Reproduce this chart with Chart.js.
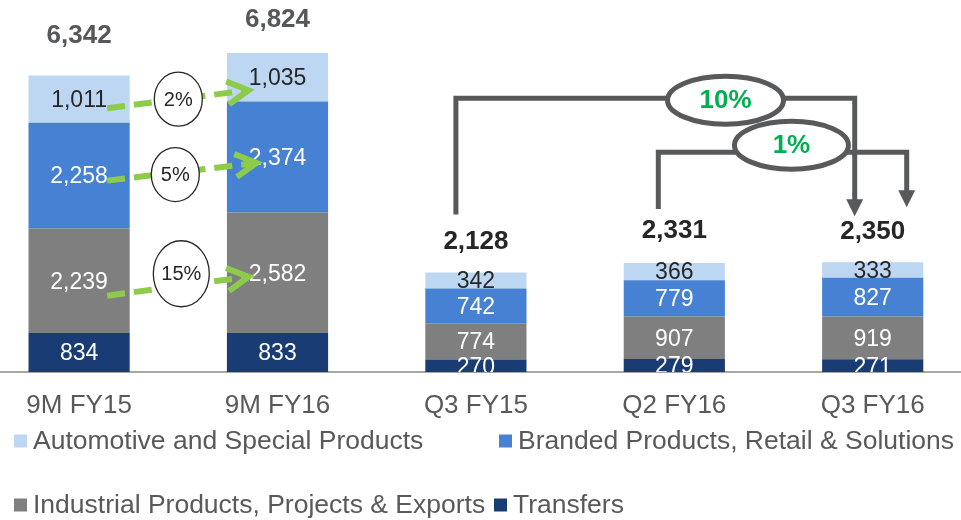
<!DOCTYPE html>
<html><head><meta charset="utf-8">
<script src="https://cdn.jsdelivr.net/npm/chart.js@4.4.1/dist/chart.umd.min.js"></script>
<style>html,body{margin:0;padding:0;background:#fff;overflow:hidden}</style>
</head><body>
<canvas id="c" width="961" height="520"></canvas>
<script>
// ---- data ----
const categories = ['9M FY15', '9M FY16', 'Q3 FY15', 'Q2 FY16', 'Q3 FY16'];
const transfers  = [834, 833, 270, 279, 271];
const industrial = [2239, 2582, 774, 907, 919];
const branded    = [2258, 2374, 742, 779, 827];
const automotive = [1011, 1035, 342, 366, 333];
const totals     = [6342, 6824, 2128, 2331, 2350];
const growth9M   = ['2%', '5%', '15%'];   // automotive, branded, industrial (9M FY16 vs 9M FY15)
const growthQ    = ['10%', '1%'];         // Q3 FY16 vs Q3 FY15, Q3 FY16 vs Q2 FY16
const seriesNames = ['Transfers', 'Industrial Products, Projects & Exports', 'Branded Products, Retail & Solutions', 'Automotive and Special Products'];

// ---- styles ----
const FONT = '"Liberation Sans", Arial, sans-serif';
const seriesColors = ['#1A3C74', '#7F7F7F', '#4681D3', '#BDD7F2'];
const labelColors = ['#FFFFFF', '#FFFFFF', '#FFFFFF', '#262626'];
const seriesValues = [transfers, industrial, branded, automotive];
const totalStyle = [
  { dy: -40, color: '#55585B' }, { dy: -33, color: '#55585B' },
  { dy: -31, color: '#262626' }, { dy: -32, color: '#262626' }, { dy: -30, color: '#262626' }
];

const annot = {
  id: 'annot',
  afterDatasetsDraw(chart) {
    const { ctx, chartArea: a } = chart;
    const seg = (d, i) => {
      const el = chart.getDatasetMeta(d).data[i];
      return { x: el.x, top: Math.min(el.y, el.base), base: el.base, mid: (el.y + el.base) / 2 };
    };
    // segment labels (clipped to plot area)
    ctx.save();
    ctx.beginPath(); ctx.rect(a.left, a.top, a.right - a.left, a.bottom - a.top); ctx.clip();
    ctx.font = '23px ' + FONT; ctx.textAlign = 'center'; ctx.textBaseline = 'middle';
    seriesValues.forEach((vals, d) => vals.forEach((v, i) => {
      const s = seg(d, i);
      ctx.fillStyle = labelColors[d];
      ctx.fillText(v.toLocaleString('en-US'), s.x, s.mid + 1.5);
    }));
    ctx.restore();

    // totals
    ctx.save();
    ctx.font = 'bold 26px ' + FONT; ctx.textAlign = 'center'; ctx.textBaseline = 'middle';
    totals.forEach((t, i) => {
      const s = seg(3, i);
      ctx.fillStyle = totalStyle[i].color;
      ctx.fillText(t.toLocaleString('en-US'), s.x, s.top + totalStyle[i].dy);
    });
    ctx.restore();

    // green dashed growth arrows between 9M bars
    const gArrows = [
      { d: 3, t: growth9M[0], sx: 28, sy: 9,  ex: -29, ey: 13, cdx: 0,  cdy: 0,  rx: 24, ry: 27 },
      { d: 2, t: growth9M[1], sx: 28, sy: 5,  ex: -21, ey: 6,  cdx: -3, cdy: 2,  rx: 24, ry: 27 },
      { d: 1, t: growth9M[2], sx: 28, sy: 15, ex: -29, ey: 4,  cdx: 3,  cdy: -12, rx: 28, ry: 33 }
    ];
    gArrows.forEach(g => {
      const s0 = seg(g.d, 0), s1 = seg(g.d, 1);
      const p0 = { x: s0.x + g.sx, y: s0.mid + g.sy };
      const p1 = { x: s1.x + g.ex, y: s1.mid + g.ey };
      const ang = Math.atan2(p1.y - p0.y, p1.x - p0.x);
      ctx.save();
      ctx.strokeStyle = '#8DCB4A'; ctx.lineWidth = 6; ctx.lineCap = 'butt';
      ctx.setLineDash([18, 9]);
      ctx.beginPath(); ctx.moveTo(p0.x, p0.y); ctx.lineTo(p1.x - 4 * Math.cos(ang), p1.y - 4 * Math.sin(ang)); ctx.stroke();
      ctx.setLineDash([]); ctx.lineJoin = 'miter';
      const L = 24, w = 0.5;
      ctx.beginPath();
      ctx.moveTo(p1.x + L * Math.cos(ang + Math.PI - w), p1.y + L * Math.sin(ang + Math.PI - w));
      ctx.lineTo(p1.x, p1.y);
      ctx.lineTo(p1.x + L * Math.cos(ang + Math.PI + w), p1.y + L * Math.sin(ang + Math.PI + w));
      ctx.stroke();
      // circle with label
      const cx = (s0.x + s1.x) / 2 + g.cdx;
      const tt = (cx - p0.x) / (p1.x - p0.x);
      const cy = p0.y + (p1.y - p0.y) * tt + g.cdy;
      ctx.beginPath(); ctx.ellipse(cx, cy, g.rx, g.ry, 0, 0, Math.PI * 2);
      ctx.fillStyle = '#FFFFFF'; ctx.fill();
      ctx.strokeStyle = '#262626'; ctx.lineWidth = 1.3; ctx.stroke();
      ctx.fillStyle = '#262626'; ctx.font = '20px ' + FONT;
      ctx.textAlign = 'center'; ctx.textBaseline = 'middle';
      ctx.fillText(g.t, cx, cy + 1);
      ctx.restore();
    });

    // gray brackets for quarterly growth
    const brackets = [
      { from: 3, to: 4, t: growthQ[1], lx: -16, rx: 34, lGap: 54, rGap: 55, topGap: 110, et: 0.536, edy: -7, erx: 57, ery: 24 },
      { from: 2, to: 4, t: growthQ[0], lx: -20, rx: -18, lGap: 58, rGap: 46, topGap: 164, et: 0.676, edy: 2,  erx: 58, ery: 24 }
    ];
    brackets.forEach(b => {
      const sf = seg(3, b.from), st = seg(3, b.to);
      const xl = sf.x + b.lx, xr = st.x + b.rx;
      const yl = sf.top - b.lGap, yr = st.top - b.rGap;
      const yt = Math.min(sf.top, st.top) - b.topGap;
      const head = 17;
      ctx.save();
      ctx.strokeStyle = '#58595B'; ctx.fillStyle = '#58595B'; ctx.lineWidth = 5; ctx.lineJoin = 'miter';
      ctx.beginPath();
      ctx.moveTo(xl, yl); ctx.lineTo(xl, yt); ctx.lineTo(xr, yt); ctx.lineTo(xr, yr - head + 2);
      ctx.stroke();
      ctx.beginPath();
      ctx.moveTo(xr - 8.5, yr - head); ctx.lineTo(xr + 8.5, yr - head); ctx.lineTo(xr, yr); ctx.closePath();
      ctx.fill();
      const ex = xl + (xr - xl) * b.et, ey = yt + b.edy;
      ctx.beginPath(); ctx.ellipse(ex, ey, b.erx, b.ery, 0, 0, Math.PI * 2);
      ctx.fillStyle = '#FFFFFF'; ctx.fill(); ctx.stroke();
      ctx.fillStyle = '#00B050'; ctx.font = 'bold 26px ' + FONT;
      ctx.textAlign = 'center'; ctx.textBaseline = 'middle';
      ctx.fillText(b.t, ex, ey + 1);
      ctx.restore();
    });

    // legend
    const legendItems = [
      { d: 3, x: 14, y: 441 }, { d: 2, x: 499, y: 441 },
      { d: 1, x: 14, y: 505 }, { d: 0, x: 494, y: 505 }
    ];
    ctx.save();
    ctx.font = '26.5px ' + FONT; ctx.textAlign = 'left'; ctx.textBaseline = 'middle';
    legendItems.forEach(it => {
      ctx.fillStyle = seriesColors[it.d];
      ctx.fillRect(it.x, it.y - 6.5, 13, 13);
      ctx.fillStyle = '#595959';
      ctx.fillText(seriesNames[it.d], it.x + 19, it.y + 1);
    });
    ctx.restore();
  }
};

const datasets = seriesValues.map((vals, d) => ({
  label: seriesNames[d],
  data: vals.map((v, i) => ({ x: i, y: v })),
  backgroundColor: seriesColors[d],
  borderWidth: 0,
  categoryPercentage: 1,
  barPercentage: 0.51
}));

new Chart(document.getElementById('c'), {
  type: 'bar',
  data: { datasets },
  options: {
    responsive: false,
    animation: false,
    devicePixelRatio: 1,
    layout: { padding: 0 },
    plugins: { legend: { display: false }, tooltip: { enabled: false } },
    scales: {
      x: {
        type: 'linear', stacked: true, min: -0.3987, max: 4.445, offset: false,
        grid: { display: false, drawTicks: false },
        border: { display: true, color: '#A6A6A6', width: 2 },
        ticks: {
          padding: 18, color: '#595959', font: { size: 26, family: FONT },
          autoSkip: false, maxRotation: 0, minRotation: 0,
          callback: v => categories[v] ?? ''
        },
        afterBuildTicks: s => { s.ticks = categories.map((_, i) => ({ value: i })); },
        afterFit: s => { s.height = 148; }
      },
      y: { stacked: true, display: false, min: 0, max: 7960 }
    }
  },
  plugins: [annot]
});
</script>
</body></html>
